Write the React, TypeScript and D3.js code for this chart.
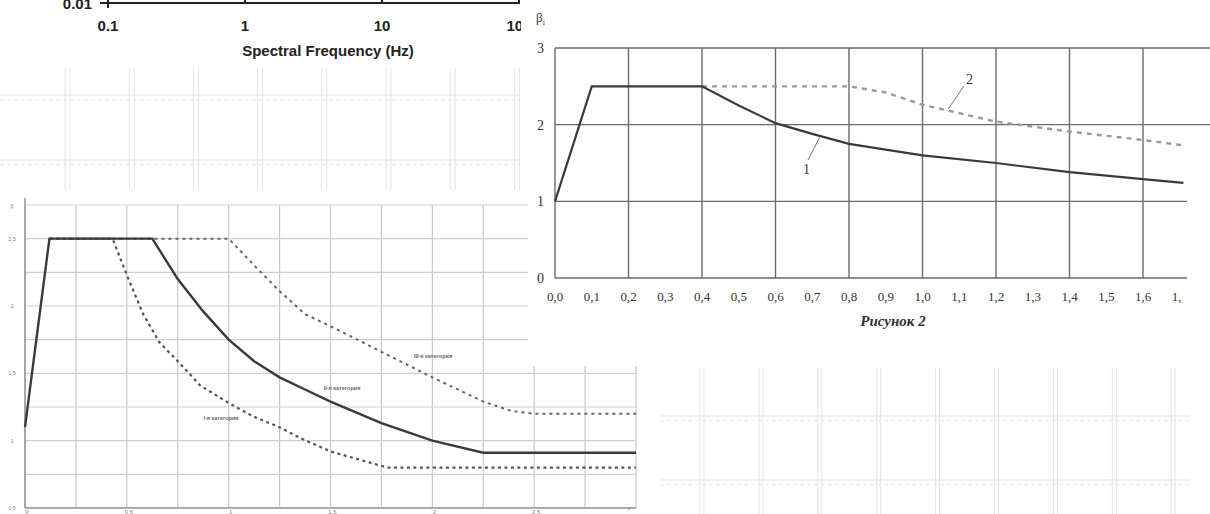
import React from 'react';
import * as d3 from 'd3';

// top-left fragment: spectral frequency axis (log)
const freqTicks = [0.1, 1, 10, 100];
const freqLabels = ['0.1', '1', '10', '100'];

// bottom-left: β(T) for soil categories
const tGrid = [0, 0.25, 0.5, 0.75, 1, 1.25, 1.5, 1.75, 2, 2.25, 2.5, 2.75, 3];
const tTicks = [0, 0.5, 1, 1.5, 2, 2.5];
const tTickLabels = ['0', '0,5', '1', '1,5', '2', '2,5'];
const bGrid = [0.5, 0.75, 1, 1.25, 1.5, 1.75, 2, 2.25, 2.5, 2.75];
const bTicks = [0.5, 1, 1.5, 2, 2.5];
const bTickLabels = ['0,5', '1', '1,5', '2', '2,5'];

const cat2T = [0, 0.12, 0.625, 0.75, 0.875, 1.0, 1.125, 1.25, 1.375, 1.5, 1.75, 2.0, 2.25, 3.0];
const cat2B = [1.1, 2.5, 2.5, 2.2, 1.96, 1.75, 1.59, 1.47, 1.38, 1.29, 1.13, 1.0, 0.91, 0.91];
const cat1T = [0.12, 0.43, 0.5, 0.58, 0.66, 0.75, 0.86, 1.0, 1.12, 1.25, 1.35, 1.5, 1.78, 3.0];
const cat1B = [2.5, 2.5, 2.23, 1.94, 1.73, 1.59, 1.41, 1.28, 1.18, 1.1, 1.02, 0.92, 0.8, 0.8];
const cat3T = [0.12, 1.0, 1.12, 1.25, 1.375, 1.5, 1.75, 2.0, 2.25, 2.39, 2.5, 3.0];
const cat3B = [2.5, 2.5, 2.31, 2.11, 1.94, 1.85, 1.66, 1.47, 1.29, 1.22, 1.2, 1.2];

// right: Рисунок 2
const figXGrid = [0, 0.2, 0.4, 0.6, 0.8, 1.0, 1.2, 1.4, 1.6];
const figXTicks = [0, 0.1, 0.2, 0.3, 0.4, 0.5, 0.6, 0.7, 0.8, 0.9, 1.0, 1.1, 1.2, 1.3, 1.4, 1.5, 1.6, 1.7];
const figXLabels = ['0,0', '0,1', '0,2', '0,3', '0,4', '0,5', '0,6', '0,7', '0,8', '0,9', '1,0', '1,1', '1,2', '1,3', '1,4', '1,5', '1,6', '1,7'];
const figYTicks = [0, 1, 2, 3];
const curve1T = [0, 0.1, 0.4, 0.5, 0.6, 0.7, 0.8, 1.0, 1.2, 1.4, 1.6, 1.71];
const curve1B = [1, 2.5, 2.5, 2.25, 2.02, 1.88, 1.75, 1.6, 1.5, 1.38, 1.29, 1.24];
const curve2T = [0.4, 0.8, 0.9, 1.0, 1.2, 1.4, 1.6, 1.71];
const curve2B = [2.5, 2.5, 2.42, 2.26, 2.04, 1.91, 1.8, 1.73];

const W = 1210;
const H = 514;

const zip = (a: number[], b: number[]) => a.map((v, i) => [v, b[i]] as [number, number]);

function FaintGrids() {
  const stroke = '#e4e4e4';
  const topV = d3.range(65, 520, 64.2);
  const brV = d3.range(700, 1190, 58.9);
  return (
    <g stroke={stroke} strokeWidth={1} fill="none">
      {[95, 160].map(y => (
        <g key={'th' + y}>
          <line x1={0} x2={520} y1={y} y2={y} />
          <line x1={0} x2={520} y1={y + 5} y2={y + 5} strokeDasharray="4,3" />
        </g>
      ))}
      {topV.map(x => (
        <g key={'tv' + x}>
          <line x1={x} x2={x} y1={68} y2={190} />
          <line x1={x + 5} x2={x + 5} y1={68} y2={190} />
        </g>
      ))}
      {[416, 480].map(y => (
        <g key={'bh' + y}>
          <line x1={660} x2={1190} y1={y} y2={y} />
          <line x1={660} x2={1190} y1={y + 5} y2={y + 5} strokeDasharray="4,3" />
        </g>
      ))}
      {brV.map(x => (
        <g key={'bv' + x}>
          <line x1={x} x2={x} y1={368} y2={H} />
          <line x1={x + 4} x2={x + 4} y1={368} y2={H} />
        </g>
      ))}
    </g>
  );
}

function SpectralFragment() {
  const x = d3.scaleLog().domain([0.1, 100]).range([108, 519]);
  const font = "'Liberation Sans', Arial, sans-serif";
  return (
    <g fontFamily={font} fontWeight="bold" fill="#222" clipPath="url(#clipTL)">
      <line x1={x(0.1)} x2={x(100)} y1={3} y2={3} stroke="#222" strokeWidth={2} />
      {freqTicks.map(t => (
        <line key={t} x1={x(t)} x2={x(t)} y1={-4} y2={t === 0.1 ? 8 : 4} stroke="#222" strokeWidth={2} />
      ))}
      <line x1={100} x2={116} y1={3} y2={3} stroke="#222" strokeWidth={2} />
      <text x={92} y={9} fontSize={15} textAnchor="end">0.01</text>
      {freqTicks.map((t, i) => (
        <text key={t} x={x(t)} y={31} fontSize={15} textAnchor="middle">{freqLabels[i]}</text>
      ))}
      <text x={328} y={56} fontSize={15} textAnchor="middle">Spectral Frequency (Hz)</text>
    </g>
  );
}

function SoilChart() {
  const x = d3.scaleLinear().domain([0, 3]).range([25, 636]);
  const y = d3.scaleLinear().domain([0.5, 2.75]).range([508, 205]);
  const line = d3.line<[number, number]>().x(d => x(d[0])).y(d => y(d[1]));
  const font = "'Liberation Sans', Arial, sans-serif";
  return (
    <g fontFamily={font}>
      {tGrid.map(t => (
        <line key={'v' + t} x1={x(t)} x2={x(t)} y1={y(2.75)} y2={y(0.5)} stroke="#c8c8c8" strokeWidth={1.2} />
      ))}
      {bGrid.map(b => (
        <line key={'h' + b} x1={x(0)} x2={x(3)} y1={y(b)} y2={y(b)} stroke="#cfcfcf" strokeWidth={1.2} />
      ))}
      <line x1={x(0)} x2={x(0)} y1={198} y2={y(0.5)} stroke="#888" strokeWidth={1.3} />
      <line x1={x(0)} x2={x(3)} y1={y(0.5)} y2={y(0.5)} stroke="#999" strokeWidth={1.3} />
      {bTicks.map((b, i) => (
        <text key={b} x={12} y={y(b) + 2} fontSize={5.5} fill="#888" textAnchor="middle">{bTickLabels[i]}</text>
      ))}
      <text x={12} y={208} fontSize={6} fill="#888" textAnchor="middle">β</text>
      {tTicks.map((t, i) => (
        <text key={t} x={x(t) + 2} y={513.5} fontSize={6} fill="#888" textAnchor="middle">{tTickLabels[i]}</text>
      ))}
      <text x={629} y={511} fontSize={6} fill="#888" fontStyle="italic" textAnchor="middle">T</text>
      <path d={line(zip(cat3T, cat3B)) || ''} fill="none" stroke="#666" strokeWidth={2} strokeDasharray="3,4" />
      <path d={line(zip(cat1T, cat1B)) || ''} fill="none" stroke="#555" strokeWidth={2.2} strokeDasharray="3,3.5" />
      <path d={line(zip(cat2T, cat2B)) || ''} fill="none" stroke="#3a3a3a" strokeWidth={2.4} />
      <g fontSize={5.5} fill="#666" fontWeight="bold" textAnchor="middle">
        <text x={433} y={358}>III-я категория</text>
        <text x={342} y={390}>II-я категория</text>
        <text x={221} y={420}>I-я категория</text>
      </g>
    </g>
  );
}

function Figure2() {
  const x = d3.scaleLinear().domain([0, 1.6]).range([555, 1143]);
  const y = d3.scaleLinear().domain([0, 3]).range([278, 48]);
  const line = d3.line<[number, number]>().x(d => x(d[0])).y(d => y(d[1]));
  const font = "'Liberation Serif', 'Times New Roman', serif";
  return (
    <g fontFamily={font} fill="#333">
      <rect x={528} y={0} width={W - 528} height={366} fill="#fff" />
      {figXGrid.map(t => (
        <line key={'v' + t} x1={x(t)} x2={x(t)} y1={y(3)} y2={y(0)} stroke="#6a6a6a" strokeWidth={1.4} />
      ))}
      {figYTicks.map(b => (
        <line key={'h' + b} x1={x(0)} x2={b >= 2 ? W : x(1.72)} y1={y(b)} y2={y(b)} stroke="#6a6a6a" strokeWidth={1.4} />
      ))}
      {figYTicks.map(b => (
        <text key={b} x={544} y={y(b) + 5} fontSize={14} textAnchor="end">{b}</text>
      ))}
      <text x={536} y={22} fontSize={13}>β<tspan fontSize={8} dy={3}>i</tspan></text>
      <g clipPath="url(#clipR)">
        {figXTicks.map((t, i) => (
          <text key={t} x={x(t)} y={301} fontSize={13} textAnchor="middle">{figXLabels[i]}</text>
        ))}
      </g>
      <path d={line(zip(curve2T, curve2B)) || ''} fill="none" stroke="#9a9a9a" strokeWidth={2.4} strokeDasharray="5,5" />
      <path d={line(zip(curve1T, curve1B)) || ''} fill="none" stroke="#3a3a3a" strokeWidth={2.2} />
      <line x1={808} y1={160} x2={x(0.72)} y2={y(1.86) + 2} stroke="#777" strokeWidth={1} />
      <text x={803} y={174} fontSize={14}>1</text>
      <line x1={964} y1={86} x2={x(1.07)} y2={y(2.18) - 2} stroke="#777" strokeWidth={1} />
      <text x={966} y={84} fontSize={14}>2</text>
      <text x={893} y={326} fontSize={15} fontWeight="bold" fontStyle="italic" textAnchor="middle">Рисунок 2</text>
    </g>
  );
}

export default function App() {
  return (
    <svg width={W} height={H} viewBox={`0 0 ${W} ${H}`} style={{ position: 'absolute', left: 0, top: 0, background: '#fff' }}>
      <defs>
        <clipPath id="clipTL">
          <rect x={0} y={0} width={521} height={70} />
        </clipPath>
        <clipPath id="clipR">
          <rect x={520} y={280} width={662} height={30} />
        </clipPath>
      </defs>
      <rect width={W} height={H} fill="#fff" />
      <FaintGrids />
      <SpectralFragment />
      <SoilChart />
      <Figure2 />
    </svg>
  );
}
